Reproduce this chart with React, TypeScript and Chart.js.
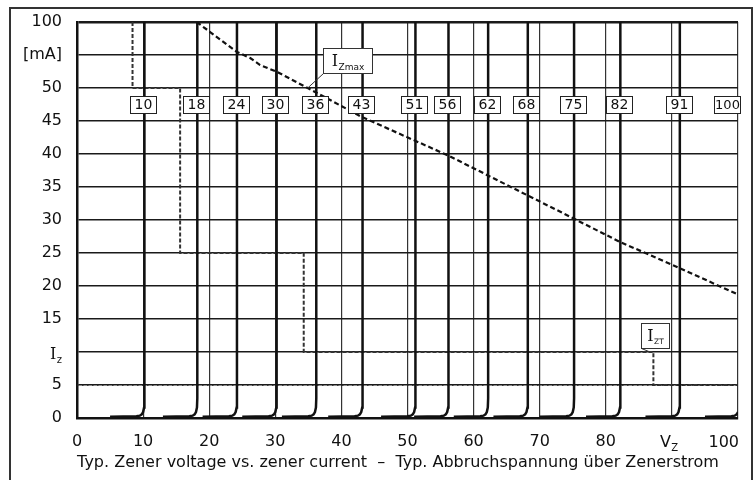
import React, { useEffect, useRef } from "react";
import { Chart, registerables } from "chart.js";

Chart.register(...registerables);

// ---- data ----
const Y_TICK_LABELS = ["0", "5", "I_Z", "15", "20", "25", "30", "35", "40", "45", "50", "[mA]", "100"];
const X_TICK_LABELS = ["0", "10", "20", "30", "40", "50", "60", "70", "80", "V_Z", "100"];
const ZENER_VOLTAGES = [10, 18, 24, 30, 36, 43, 51, 56, 62, 68, 75, 82, 91, 100];
// knee shape of one zener characteristic (offset from Vz in V, current in mA)
const KNEE_DV = [-5.0, -1.0, -0.5, -0.2, 0.0, 0.15, 0.2, 0.2];
const KNEE_MA = [0.2, 0.25, 0.35, 0.55, 0.9, 1.6, 3, 100];
const IZMAX_V = [18.1, 24.2, 26.2, 27.7, 30.3, 34.9, 43.1, 56.1, 73.4, 82.1, 91.2, 99.8, 100];
const IZMAX_MA = [100, 77.3, 72.7, 67.4, 62.1, 50, 45.6, 39.8, 31.1, 26.7, 22.7, 18.8, 18.7];
const IZT_V = [8.4, 8.4, 15.6, 15.6, 34.3, 34.3, 87.2, 87.2, 100];
const IZT_MA = [100, 50, 50, 25, 25, 10, 10, 5, 5];
const REF_V = [0, 100];
const REF_MA = [5, 5];

// annotation anchors (data units)
const VZ_LABEL_MA = 47.5;
const IZMAX_LABEL = { v: 40.9, ma: 70.8, av: 34.9, ama: 50 };
const IZT_LABEL = { v: 87.4, ma: 12.5, av: 86.7, ama: 10 };

const FONT = "'DejaVu Sans', Verdana, sans-serif";
const SERIF = "'DejaVu Serif', serif";

// y axis is linear up to 50 mA (5 mA / division), then 25 mA / division
function toGrid(mA: number): number {
  return mA <= 50 ? mA / 5 : 10 + (mA - 50) / 25;
}

function pts(xs: number[], ys: number[]) {
  return xs.map((x, i) => ({ x, y: toGrid(ys[i]) }));
}

function drawSubText(
  ctx: CanvasRenderingContext2D,
  main: string,
  sub: string,
  x: number,
  baseline: number,
  mainFont: string,
  subFont: string,
  subDrop: number
) {
  ctx.textAlign = "left";
  ctx.textBaseline = "alphabetic";
  ctx.font = mainFont;
  ctx.fillText(main, x, baseline);
  const w = ctx.measureText(main).width;
  ctx.font = subFont;
  ctx.fillText(sub, x + w + 0.5, baseline + subDrop);
}

const LAST_X_INDEX = X_TICK_LABELS.length - 1;

const overlayPlugin = {
  id: "overlay",
  afterDatasetsDraw(chart: any) {
    const ctx: CanvasRenderingContext2D = chart.ctx;
    const xs = chart.scales.x;
    const ys = chart.scales.y;
    const area = chart.chartArea;
    ctx.save();
    ctx.fillStyle = "#111";

    // voltage label boxes
    const by = ys.getPixelForValue(toGrid(VZ_LABEL_MA));
    ZENER_VOLTAGES.forEach((v) => {
      const w = 26;
      const h = 17;
      let cx = xs.getPixelForValue(v);
      cx = Math.min(cx, area.right + 2 - w / 2);
      const left = Math.round(cx - w / 2) + 0.5;
      const top = Math.round(by - h / 2) + 0.5;
      ctx.fillStyle = "#fff";
      ctx.fillRect(left, top, w, h);
      ctx.strokeStyle = "#222";
      ctx.lineWidth = 1;
      ctx.strokeRect(left, top, w, h);
      ctx.fillStyle = "#111";
      ctx.font = `${v >= 100 ? 13 : 14}px ${FONT}`;
      ctx.textAlign = "center";
      ctx.textBaseline = "middle";
      ctx.fillText(String(v), left + w / 2, top + h / 2 + 0.5);
    });

    // callouts
    const callout = (
      lab: { v: number; ma: number; av: number; ama: number },
      w: number,
      h: number,
      sub: string,
      subSize: number,
      subDrop: number
    ) => {
      const cx = xs.getPixelForValue(lab.v);
      const cy = ys.getPixelForValue(toGrid(lab.ma));
      const left = Math.round(cx - w / 2) + 0.5;
      const top = Math.round(cy - h / 2) + 0.5;
      const ax = xs.getPixelForValue(lab.av);
      const ay = ys.getPixelForValue(toGrid(lab.ama));
      ctx.strokeStyle = "#333";
      ctx.lineWidth = 1;
      ctx.beginPath();
      ctx.moveTo(left, top + h);
      ctx.lineTo(ax, ay);
      ctx.stroke();
      ctx.fillStyle = "#fff";
      ctx.fillRect(left, top, w, h);
      ctx.strokeRect(left, top, w, h);
      ctx.fillStyle = "#111";
      ctx.font = `16px ${SERIF}`;
      const iw = ctx.measureText("I").width;
      ctx.font = `${subSize}px ${FONT}`;
      const sw = ctx.measureText(sub).width;
      const start = left + (w - iw - sw - 0.5) / 2;
      drawSubText(ctx, "I", sub, start, top + 17, `16px ${SERIF}`, `${subSize}px ${FONT}`, subDrop);
    };
    callout(IZMAX_LABEL, 49, 25, "Zmax", 9, 4);
    callout(IZT_LABEL, 28, 25, "ZT", 7.5, 3);

    // subscript tick labels
    ctx.fillStyle = "#111";
    const iy = ys.getPixelForValue(2);
    ctx.font = `16px ${SERIF}`;
    const iW = ctx.measureText("I").width;
    ctx.font = `10px ${FONT}`;
    const zW = ctx.measureText("z").width;
    drawSubText(ctx, "I", "z", 62 - iW - zW - 0.5, iy + 6.5, `16px ${SERIF}`, `10px ${FONT}`, 4.5);

    const vx = xs.getPixelForValue(90);
    drawSubText(ctx, "V", "Z", vx - 12, 446.5, `16px ${FONT}`, `10px ${FONT}`, 4.5);

    // last x tick label, kept inside the frame
    ctx.font = `16px ${FONT}`;
    ctx.textAlign = "right";
    ctx.textBaseline = "alphabetic";
    ctx.fillText(X_TICK_LABELS[LAST_X_INDEX], area.right + 1, 446.5);

    // axis caption
    ctx.textAlign = "center";
    ctx.fillText(
      "Typ. Zener voltage vs. zener current  \u2013  Typ. Abbruchspannung \u00fcber Zenerstrom",
      398,
      467
    );

    // outer frame
    ctx.strokeStyle = "#333";
    ctx.lineWidth = 2;
    ctx.strokeRect(10, 8, 742, 500);
    ctx.restore();
  },
};

export default function App() {
  const ref = useRef<HTMLCanvasElement>(null);

  useEffect(() => {
    const canvas = ref.current;
    if (!canvas) return;

    const zenerSets = ZENER_VOLTAGES.map((v) => ({
      label: `${v} V`,
      data: pts(
        KNEE_DV.map((d) => v + d),
        KNEE_MA
      ),
      borderColor: "#111",
      borderWidth: 2.5,
      pointRadius: 0,
      showLine: true,
      tension: 0,
    }));

    const chart = new Chart(canvas, {
      type: "scatter",
      data: {
        datasets: [
          ...zenerSets,
          {
            label: "5 mA",
            data: pts(REF_V, REF_MA),
            borderColor: "#222",
            borderWidth: 1.5,
            borderDash: [1.5, 3.5],
            pointRadius: 0,
            showLine: true,
          },
          {
            label: "IZT",
            data: pts(IZT_V, IZT_MA),
            borderColor: "#333",
            borderWidth: 2,
            borderDash: [4, 2],
            pointRadius: 0,
            showLine: true,
          },
          {
            label: "IZmax",
            data: pts(IZMAX_V, IZMAX_MA),
            borderColor: "#111",
            borderWidth: 2.2,
            borderDash: [5, 3],
            pointRadius: 0,
            showLine: true,
          },
        ] as any,
      },
      options: {
        animation: false,
        responsive: false,
        devicePixelRatio: 1,
        layout: { padding: { left: 0, top: 22, right: 18, bottom: 0 } },
        plugins: {
          legend: { display: false },
          tooltip: { enabled: false },
        },
        scales: {
          x: {
            type: "linear",
            min: 0,
            max: 100,
            afterFit: (s: any) => {
              s.height = 62;
              s.paddingLeft = 0;
              s.paddingRight = 0;
            },
            ticks: {
              stepSize: 10,
              autoSkip: false,
              maxRotation: 0,
              padding: 14,
              color: "#111",
              font: { family: FONT, size: 16 },
              callback: (v: any) => {
                const i = Math.round(Number(v) / 10);
                const l = X_TICK_LABELS[i];
                return !l || l.includes("_") || i === LAST_X_INDEX ? "" : l;
              },
            },
            grid: {
              color: "#333",
              lineWidth: 1.2,
              drawTicks: false,
            },
            border: { display: true, color: "#111", width: 2.5 },
          },
          y: {
            type: "linear",
            min: 0,
            max: 12,
            afterFit: (s: any) => {
              s.width = 77;
              s.paddingTop = 0;
              s.paddingBottom = 0;
            },
            ticks: {
              stepSize: 1,
              autoSkip: false,
              padding: 15,
              color: "#111",
              font: { family: FONT, size: 16 },
              callback: (v: any) => {
                const l = Y_TICK_LABELS[Math.round(Number(v))];
                return l && l.includes("_") ? "" : l;
              },
            },
            grid: {
              color: "#1a1a1a",
              lineWidth: (c: any) => (c.tick && c.tick.value === 12 ? 2.5 : 1.4),
              drawTicks: false,
            },
            border: { display: true, color: "#111", width: 2.5 },
          },
        },
      } as any,
      plugins: [overlayPlugin],
    });

    return () => chart.destroy();
  }, []);

  return (
    <div style={{ position: "absolute", left: 0, top: 0, width: 756, height: 480, background: "#fff" }}>
      <canvas ref={ref} width={756} height={480} style={{ display: "block", width: 756, height: 480 }} />
    </div>
  );
}
